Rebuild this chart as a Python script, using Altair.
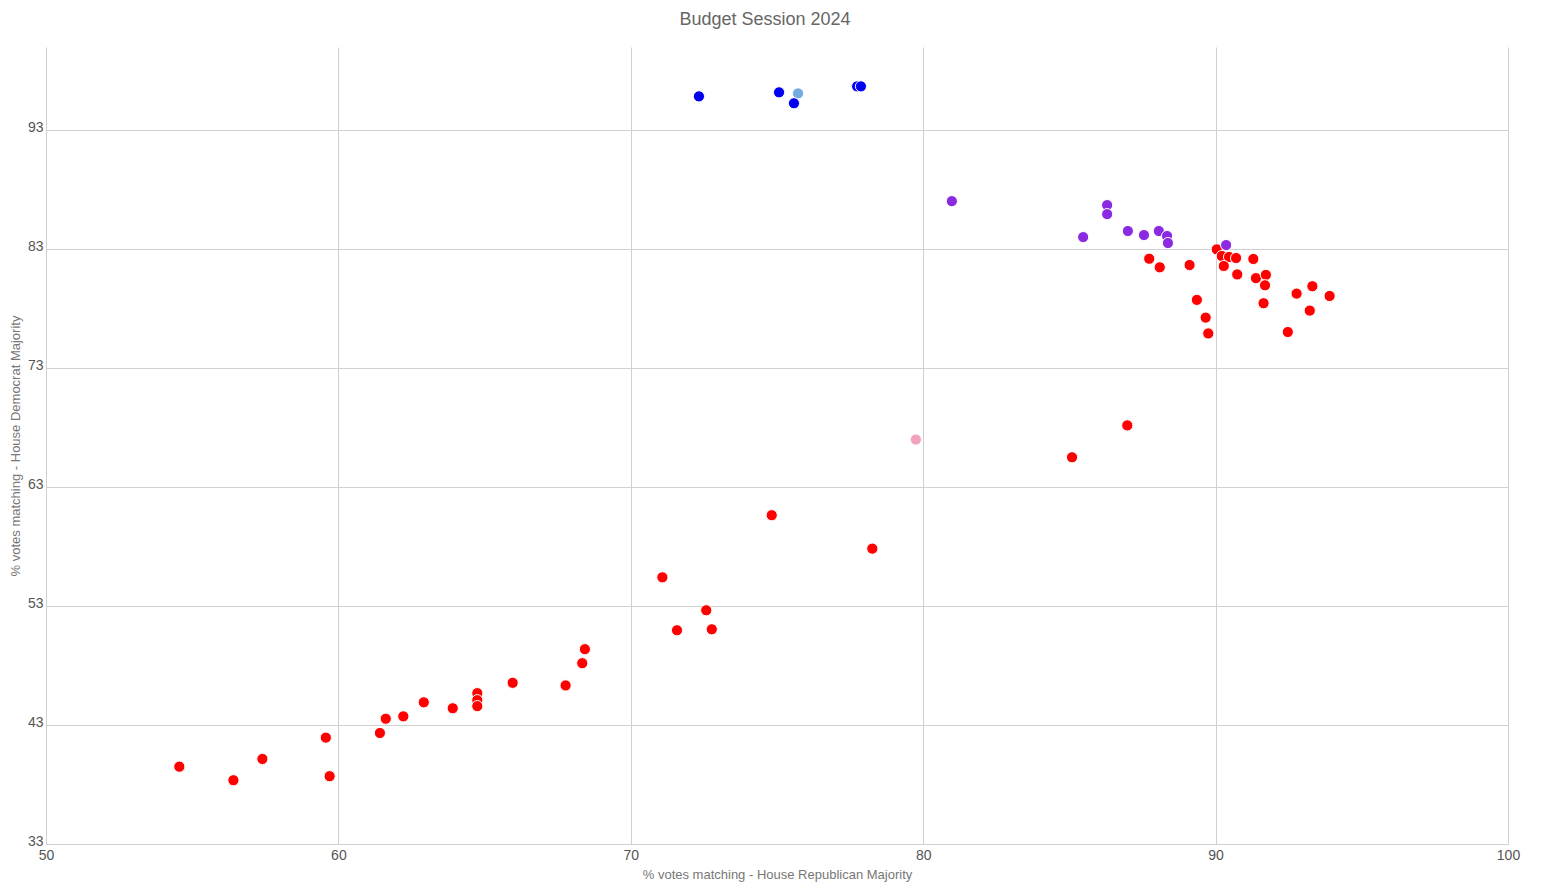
import altair as alt
import pandas as pd

# Blue
blue_x = [72.33, 75.07, 75.58, 77.74, 77.87]
blue_y = [95.85, 96.19, 95.27, 96.69, 96.69]
# Light blue
lblue_x = [75.72]
lblue_y = [96.10]
# Purple
purple_x = [80.98, 86.29, 86.29, 85.47, 87.00, 87.55, 88.06, 88.34, 88.37, 90.36]
purple_y = [87.04, 86.71, 85.95, 84.02, 84.53, 84.19, 84.53, 84.11, 83.52, 83.35]
# Pink
pink_x = [79.75]
pink_y = [67.00]
# Red
red_x = [90.04, 90.21, 90.46, 90.70, 90.28, 87.73, 88.09, 89.11, 91.29, 90.74,
         91.38, 91.72, 91.69, 93.31, 92.77, 93.90, 89.36, 91.64, 93.22, 89.66,
         89.75, 92.47,
         86.98, 85.09,
         74.82, 78.26, 71.08, 72.58, 71.58, 72.77,
         68.43, 68.34, 67.77, 65.96, 63.91, 62.92, 62.22, 61.62, 61.42, 59.57,
         59.70, 57.40, 56.41, 54.56, 64.75, 64.75, 64.75]
red_y = [82.99, 82.43, 82.35, 82.26, 81.59, 82.20, 81.48, 81.67, 82.18, 80.88,
         80.57, 80.84, 79.97, 79.89, 79.27, 79.07, 78.74, 78.46, 77.84, 77.25,
         75.92, 76.04,
         68.19, 65.51,
         60.64, 57.83, 55.42, 52.65, 50.97, 51.05,
         49.38, 48.20, 46.33, 46.55, 44.41, 44.91, 43.73, 43.53, 42.33, 41.94,
         38.70, 40.15, 38.36, 39.50, 45.68, 45.09, 44.59]

groups = ["red", "pink", "purple", "lightblue", "blue"]
colors = ["#ff0000", "#f0a3bf", "#8a2be2", "#74ace0", "#0000f0"]

rows = []
for g, xs, ys in [("red", red_x, red_y), ("pink", pink_x, pink_y),
                  ("purple", purple_x, purple_y), ("lightblue", lblue_x, lblue_y),
                  ("blue", blue_x, blue_y)]:
    for x, y in zip(xs, ys):
        rows.append({"rep": x, "dem": y, "group": g})
df = pd.DataFrame(rows)

x_ticks = [50, 60, 70, 80, 90, 100]
y_ticks = [33, 43, 53, 63, 73, 83, 93]

chart = alt.Chart(df).mark_circle(size=125, opacity=1, stroke="white", strokeWidth=1).encode(
    x=alt.X("rep:Q", scale=alt.Scale(domain=[50, 100], nice=False, zero=False),
            axis=alt.Axis(values=x_ticks, title="% votes matching - House Republican Majority",
                          grid=True, domain=False, ticks=False, labelPadding=4,
                          labelFlush=False, titlePadding=6, format="d")),
    y=alt.Y("dem:Q", scale=alt.Scale(domain=[33, 100], nice=False, zero=False),
            axis=alt.Axis(values=y_ticks, title="% votes matching - House Democrat Majority",
                          grid=True, domain=False, ticks=False, labelPadding=3,
                          labelOffset=-3, labelFlush=False, titlePadding=5, format="d")),
    color=alt.Color("group:N", scale=alt.Scale(domain=groups, range=colors), legend=None),
).properties(
    width=1462, height=797,
    title=alt.TitleParams("Budget Session 2024", fontSize=18, font="Liberation Sans",
                          color="#666666", fontWeight="normal", offset=18, dx=-12),
    autosize=alt.AutoSizeParams(type="none"),
    padding={"left": 38, "top": 39, "right": 24, "bottom": 40},
).configure_axis(
    gridColor="#d0d0d0", gridWidth=1, labelFont="Liberation Sans", labelFontSize=14,
    labelColor="#555555", titleFont="Liberation Sans", titleFontSize=13,
    titleColor="#777777", titleFontWeight="normal",
).configure_view(stroke=None)

chart.save("out.html", embed_options={"renderer": "svg", "actions": False})
